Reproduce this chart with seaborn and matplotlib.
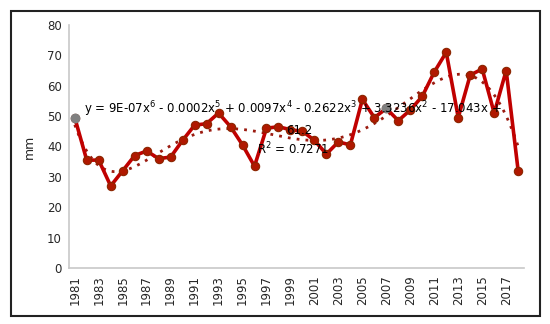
import numpy as np
import pandas as pd
import matplotlib
matplotlib.use("Agg")
from matplotlib import pyplot as plt
from matplotlib.patches import Rectangle
import seaborn as sns

# Yearly values (mm)
years = list(range(1981, 2019))
rain_mm = [49.5, 35.5, 35.5, 27.0, 32.0, 37.0, 38.5, 36.0, 36.5, 42.0,
           47.0, 47.5, 51.0, 46.5, 40.5, 33.5, 46.0, 46.5, 45.5, 45.0,
           42.0, 37.5, 41.5, 40.5, 55.5, 49.5, 52.5, 48.5, 52.0, 56.5,
           64.5, 71.0, 49.5, 63.5, 65.5, 51.0, 65.0, 32.0]
highlight_years = [1981, 2007]
y_ticks = [0, 10, 20, 30, 40, 50, 60, 70, 80]
eq_text = "y = 9E-07x$^6$ - 0.0002x$^5$ + 0.0097x$^4$ - 0.2622x$^3$ + 3.3236x$^2$ - 17.043x +"
eq_tail = "61.2"
r2_text = "R$^2$ = 0.7271"

df = pd.DataFrame({"year": years, "mm": rain_mm})
df["idx"] = np.arange(len(df))

# 6th order polynomial trend, as in the spreadsheet
coef = np.polyfit(df["idx"] + 1, df["mm"], 6)
xs = np.linspace(0, len(df) - 1, 300)
trend = pd.DataFrame({"idx": xs, "mm": np.polyval(coef, xs + 1)})

sns.set_style("white")
plt.rcParams["font.family"] = ["DejaVu Sans"]

fig = plt.figure(figsize=(5.5, 3.24), dpi=100)
ax = fig.add_axes([0.125, 0.173, 0.828, 0.75])

sns.lineplot(data=df, x="idx", y="mm", ax=ax, color="#C00000", linewidth=2.6,
             marker="o", markersize=6, markerfacecolor="#B01800",
             markeredgecolor="#8B2500", markeredgewidth=0.8, zorder=3)
sns.lineplot(data=trend, x="idx", y="mm", ax=ax, color="#9B1B10",
             linewidth=2, linestyle=(0, (1, 2.2)), zorder=2)

hl = df[df["year"].isin(highlight_years)]
ax.scatter(hl["idx"], hl["mm"], s=36, color="#808080", zorder=4)

ax.set_xlim(-0.5, len(df) - 0.5)
ax.set_ylim(0, 80)
ax.set_yticks(y_ticks)
ax.set_xticks(df["idx"][::2])
ax.set_xticklabels([str(y) for y in years[::2]], rotation=90)
ax.tick_params(axis="both", labelsize=8.5, length=0, pad=5)
ax.set_xlabel("")
ax.set_ylabel("mm", fontsize=9, labelpad=8)

for side in ["top", "right"]:
    ax.spines[side].set_visible(False)
for side in ["left", "bottom"]:
    ax.spines[side].set_color("#C8C8C8")
    ax.spines[side].set_linewidth(1.2)

ax.text(0.8, 51.0, eq_text, fontsize=8.5, color="black", zorder=5)
ax.text(17.6, 44.0, eq_tail, fontsize=8.5, color="black", zorder=5)
ax.text(15.2, 37.5, r2_text, fontsize=8.5, color="black", zorder=5)

# outer chart frame
fig.patches.append(Rectangle((11 / 550, 1 - 316 / 324), 529 / 550, 305 / 324,
                             transform=fig.transFigure, fill=False,
                             edgecolor="#222222", linewidth=1.5))

fig.savefig("out.png", dpi=100)
